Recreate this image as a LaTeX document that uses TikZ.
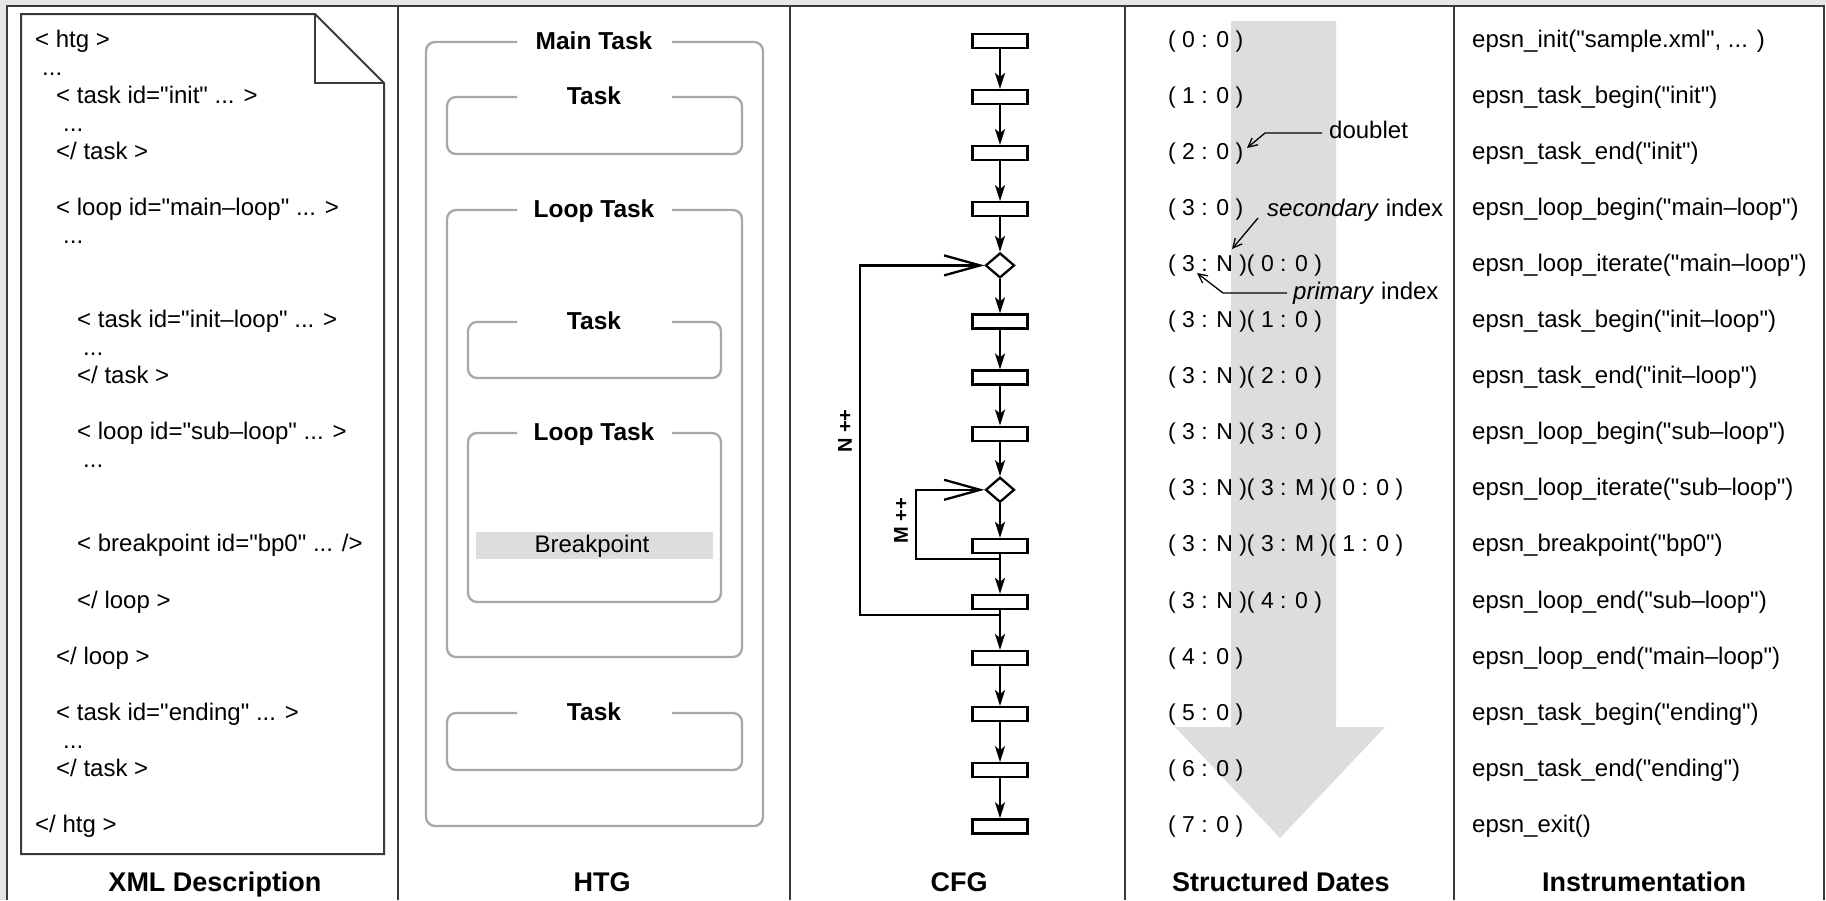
\documentclass[tikz,border=0pt]{standalone}
\usepackage{fontspec}
\setmainfont{Liberation Sans}[Ligatures=TeXOff]
\usetikzlibrary{arrows.meta,shapes.geometric}
\definecolor{htggray}{HTML}{A8A8A8}
\definecolor{bpgray}{HTML}{DDDDDD}
\definecolor{framec}{HTML}{3A3A3A}
\definecolor{edgegray}{HTML}{E6E6E6}
\begin{document}
\begin{tikzpicture}[x=1pt,y=-1pt,
  row/.style={anchor=base west, inner sep=0pt, font=\fontsize{24}{28}\selectfont},
  date/.style={anchor=base west, inner sep=0pt, font=\fontsize{23}{28}\selectfont},
  title/.style={anchor=base, inner sep=0pt, font=\bfseries\fontsize{27}{30}\selectfont},
  htglabel/.style={anchor=base, inner sep=0pt, font=\bfseries\fontsize{24.5}{28}\selectfont},
  htgbox/.style={draw=htggray, line width=2.3pt, rounded corners=9pt},
  docline/.style={draw=framec, line width=2pt},
  sepline/.style={draw=framec, line width=2pt},
  cfgbox/.style={draw, rectangle, line width=2.3pt, minimum width=55pt, minimum height=14pt, inner sep=0pt},
  cfgdiamond/.style={draw, diamond, line width=2.3pt, minimum width=29pt, minimum height=25pt, inner sep=0pt},
  flow/.style={line width=2.3pt, -{Stealth[length=16pt,width=10pt,inset=4pt]}},
  back/.style={line width=2.3pt, -{Straight Barb[length=36pt,width=20pt,line width=2.3pt]}},
  ann/.style={line width=1.3pt, -{Straight Barb[length=9pt,width=9pt,line width=1.3pt]}},
  looplabel/.style={rotate=90, inner sep=0pt, font=\bfseries\fontsize{20}{24}\selectfont}
]
\useasboundingbox (0,0) rectangle (1826,900);
\fill[white] (0,0) rectangle (1826,900);
\fill[edgegray] (0,0) rectangle (6,900);
\fill[edgegray] (0,0) rectangle (1826,5);
\draw[sepline] (7,900) -- (7,6) -- (1824,6) -- (1824,900);
\draw[sepline] (398,6) -- (398,900);
\draw[sepline] (790,6) -- (790,900);
\draw[sepline] (1125,6) -- (1125,900);
\draw[sepline] (1454,6) -- (1454,900);

% ---------------- XML Description ----------------
\draw[docline] (21,14) -- (315,14) -- (384,83) -- (384,854) -- (21,854) -- cycle;
\draw[docline] (315,14) -- (315,83) -- (384,83);
\node[row] (x0) at (35,47) {< htg >};
\node[row] (x0d) at (42,75) {...};
\node[row] (x1) at (56,103.1) {< task id="init" ... >};
\node[row] (x1d) at (63,131) {...};
\node[row] (x2) at (56,159.2) {</ task >};
\node[row] (x3) at (56,215.3) {< loop id="main–loop" ... >};
\node[row] (x3d) at (63,243) {...};
\node[row] (x5) at (77,327.5) {< task id="init–loop" ... >};
\node[row] (x5d) at (83,355.5) {...};
\node[row] (x6) at (77,383.6) {</ task >};
\node[row] (x7) at (77,439.7) {< loop id="sub–loop" ... >};
\node[row] (x7d) at (83,467.7) {...};
\node[row] (x9) at (77,551.9) {< breakpoint id="bp0" ... />};
\node[row] (x10) at (77,608) {</ loop >};
\node[row] (x11) at (56,664.1) {</ loop >};
\node[row] (x12) at (56,720.2) {< task id="ending" ... >};
\node[row] (x12d) at (63,748) {...};
\node[row] (x13) at (56,776.3) {</ task >};
\node[row] (x14) at (35,832.4) {</ htg >};
\node[title] (t1) at (215,891) {XML Description};

% ---------------- HTG ----------------
\draw[htgbox] (517,42) -- (426,42) -- (426,826) -- (763,826) -- (763,42) -- (672,42);
\node[htglabel] (hmain) at (594,49) {Main Task};
\draw[htgbox] (517,97) -- (447,97) -- (447,154) -- (742,154) -- (742,97) -- (672,97);
\node[htglabel] (htask1) at (594,104) {Task};
\draw[htgbox] (517,210) -- (447,210) -- (447,657) -- (742,657) -- (742,210) -- (672,210);
\node[htglabel] (hloop1) at (594,217) {Loop Task};
\draw[htgbox] (517,322) -- (468,322) -- (468,378) -- (721,378) -- (721,322) -- (672,322);
\node[htglabel] (htask2) at (594,329) {Task};
\draw[htgbox] (517,433) -- (468,433) -- (468,602) -- (721,602) -- (721,433) -- (672,433);
\node[htglabel] (hloop2) at (594,440) {Loop Task};
\fill[bpgray] (476,532) rectangle (713,559);
\node[anchor=base, inner sep=0pt, font=\fontsize{24}{28}\selectfont] (hbp) at (592,552) {Breakpoint};
\draw[htgbox] (517,713) -- (447,713) -- (447,770) -- (742,770) -- (742,713) -- (672,713);
\node[htglabel] (htask3) at (594,720) {Task};
\node[title] (t2) at (602,891) {HTG};

% ---------------- CFG ----------------
\node[cfgbox] (c0) at (1000,41) {};
\node[cfgbox] (c1) at (1000,97.1) {};
\node[cfgbox] (c2) at (1000,153.2) {};
\node[cfgbox] (c3) at (1000,209.3) {};
\node[cfgdiamond] (d4) at (1000,265.4) {};
\node[cfgbox] (c5) at (1000,321.5) {};
\node[cfgbox] (c6) at (1000,377.6) {};
\node[cfgbox] (c7) at (1000,433.7) {};
\node[cfgdiamond] (d8) at (1000,489.8) {};
\node[cfgbox] (c9) at (1000,545.9) {};
\node[cfgbox] (c10) at (1000,602) {};
\node[cfgbox] (c11) at (1000,658.1) {};
\node[cfgbox] (c12) at (1000,714.2) {};
\node[cfgbox] (c13) at (1000,770.3) {};
\node[cfgbox] (c14) at (1000,826.4) {};
\draw[flow] (c0) -- (c1);
\draw[flow] (c1) -- (c2);
\draw[flow] (c2) -- (c3);
\draw[flow] (c3) -- (d4);
\draw[flow] (d4) -- (c5);
\draw[flow] (c5) -- (c6);
\draw[flow] (c6) -- (c7);
\draw[flow] (c7) -- (d8);
\draw[flow] (d8) -- (c9);
\draw[flow] (c9) -- (c10);
\draw[flow] (c10) -- (c11);
\draw[flow] (c11) -- (c12);
\draw[flow] (c12) -- (c13);
\draw[flow] (c13) -- (c14);
\coordinate (j1) at (1000,615);
\coordinate (j2) at (1000,559);
\draw[back] (j1) -- (860,615) |- (d4.west);
\draw[back] (j2) -- (916,559) |- (d8.west);
\node[looplabel] (nlab) at (845,431) {N ++};
\node[looplabel] (mlab) at (901,521) {M ++};
\node[title] (t3) at (959,891) {CFG};

% ---------------- Structured Dates ----------------
\fill[bpgray] (1231,21) -- (1336,21) -- (1336,727) -- (1385,727) -- (1280,838) -- (1175,727) -- (1231,727) -- cycle;
\node[date] (s0) at (1168,47) {( 0 : 0 )};
\node[date] (s1) at (1168,103.1) {( 1 : 0 )};
\node[date] (s2) at (1168,159.2) {( 2 : 0 )};
\node[date] (s3) at (1168,215.3) {( 3 : 0 )};
\node[date] (s4) at (1168,271.4) {( 3 : N )( 0 : 0 )};
\node[date] (s5) at (1168,327.5) {( 3 : N )( 1 : 0 )};
\node[date] (s6) at (1168,383.6) {( 3 : N )( 2 : 0 )};
\node[date] (s7) at (1168,439.7) {( 3 : N )( 3 : 0 )};
\node[date] (s8) at (1168,495.8) {( 3 : N )( 3 : M )( 0 : 0 )};
\node[date] (s9) at (1168,551.9) {( 3 : N )( 3 : M )( 1 : 0 )};
\node[date] (s10) at (1168,608) {( 3 : N )( 4 : 0 )};
\node[date] (s11) at (1168,664.1) {( 4 : 0 )};
\node[date] (s12) at (1168,720.2) {( 5 : 0 )};
\node[date] (s13) at (1168,776.3) {( 6 : 0 )};
\node[date] (s14) at (1168,832.4) {( 7 : 0 )};
\node[row] (adoub) at (1329,138) {doublet};
\node[row] (asec) at (1267,216) {\textit{secondary} index};
\node[row] (aprim) at (1293,299) {\textit{primary} index};
\coordinate (da) at (1322,133);
\coordinate (db) at (1247,148);
\coordinate (sa) at (1258,218);
\coordinate (sb) at (1232,249);
\coordinate (pa) at (1287,293);
\coordinate (pb) at (1197,273);
\draw[ann] (da) -- (1265,133) -- (db);
\draw[ann] (sa) -- (sb);
\draw[ann] (pa) -- (1223,293) -- (pb);
\node[title] (t4) at (1281,891) {Structured Dates};

% ---------------- Instrumentation ----------------
\node[row] (i0) at (1472,47) {epsn\_init("sample.xml", ... )};
\node[row] (i1) at (1472,103.1) {epsn\_task\_begin("init")};
\node[row] (i2) at (1472,159.2) {epsn\_task\_end("init")};
\node[row] (i3) at (1472,215.3) {epsn\_loop\_begin("main–loop")};
\node[row] (i4) at (1472,271.4) {epsn\_loop\_iterate("main–loop")};
\node[row] (i5) at (1472,327.5) {epsn\_task\_begin("init–loop")};
\node[row] (i6) at (1472,383.6) {epsn\_task\_end("init–loop")};
\node[row] (i7) at (1472,439.7) {epsn\_loop\_begin("sub–loop")};
\node[row] (i8) at (1472,495.8) {epsn\_loop\_iterate("sub–loop")};
\node[row] (i9) at (1472,551.9) {epsn\_breakpoint("bp0")};
\node[row] (i10) at (1472,608) {epsn\_loop\_end("sub–loop")};
\node[row] (i11) at (1472,664.1) {epsn\_loop\_end("main–loop")};
\node[row] (i12) at (1472,720.2) {epsn\_task\_begin("ending")};
\node[row] (i13) at (1472,776.3) {epsn\_task\_end("ending")};
\node[row] (i14) at (1472,832.4) {epsn\_exit()};
\node[title] (t5) at (1644,891) {Instrumentation};
\end{tikzpicture}
\end{document}
